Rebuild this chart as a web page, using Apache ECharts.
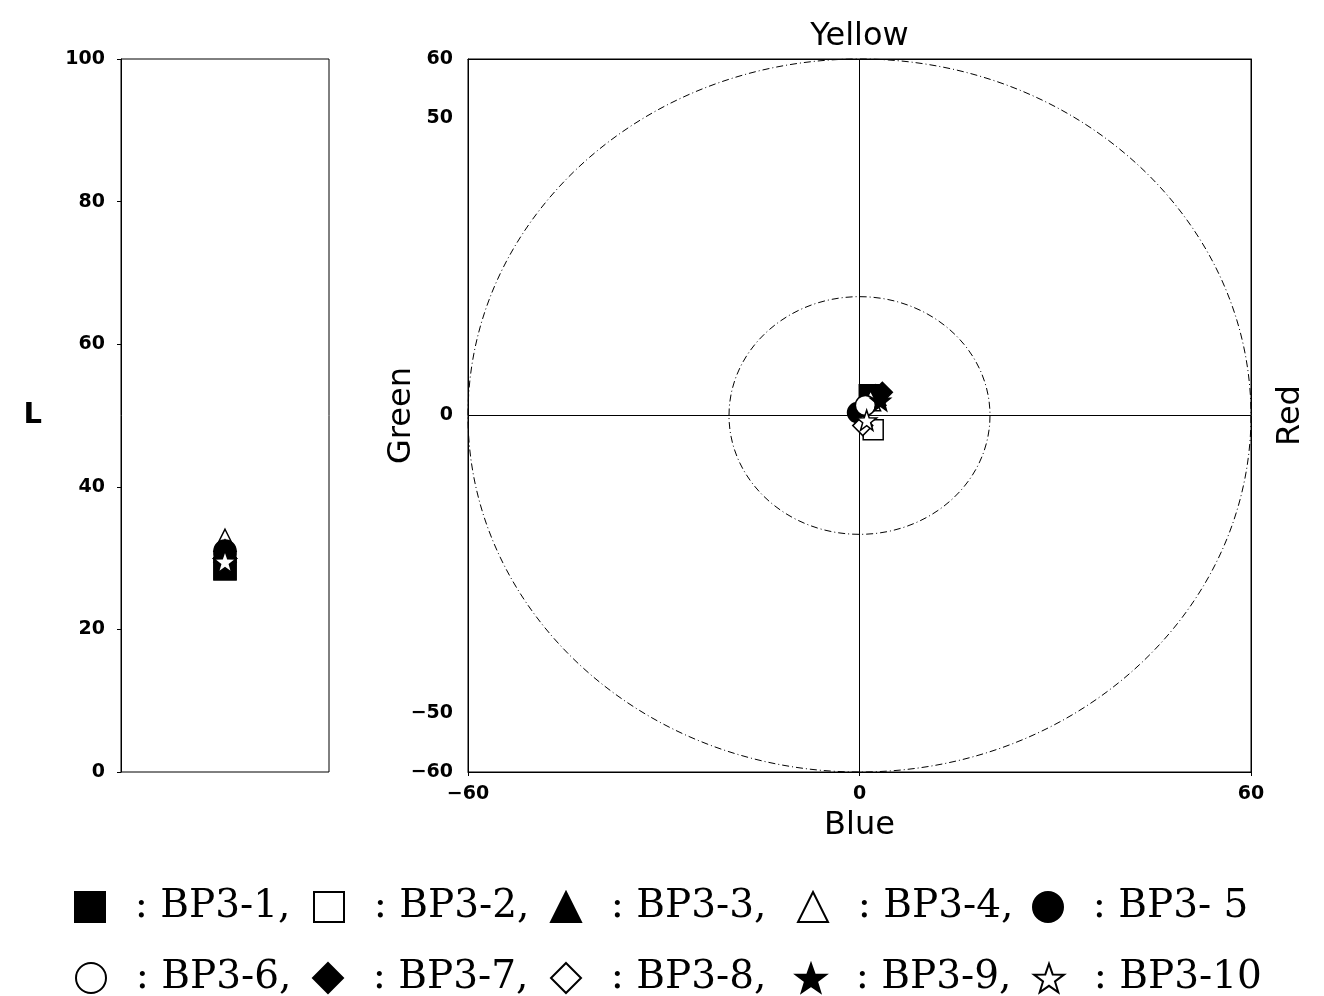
<!DOCTYPE html>
<html><head><meta charset="utf-8">
<script src="https://cdn.jsdelivr.net/npm/echarts@6/dist/echarts.min.js"></script>
<style>html,body{margin:0;padding:0;background:#fff}#c{width:1324px;height:996px}</style>
</head><body><div id="c"></div>
<script>
// ---- data ----
const samples = ['BP3-1','BP3-2','BP3-3','BP3-4','BP3-5','BP3-6','BP3-7','BP3-8','BP3-9','BP3-10'];
const legendLabels = ['BP3-1,','BP3-2,','BP3-3,','BP3-4,','BP3- 5','BP3-6,','BP3-7,','BP3-8,','BP3-9,','BP3-10'];
const lValues = [28.5, 28.5, 31.0, 32.5, 31.0, 30.5, 30.0, 30.0, 29.5, 29.5];
const aValues = [1.5, 2.1, 2.5, 1.7, -0.3, 0.9, 3.5, 0.5, 3.2, 1.1];
const bValues = [3.5, -2.4, 3.4, 2.5, 0.5, 1.7, 3.9, -1.7, 2.5, -0.8];
const lTicks = [0, 20, 40, 60, 80, 100];
const abYTicks = [-60, -50, 0, 50, 60];
const abXTicks = [-60, 0, 60];
const ringRadii = [20, 60];

// ---- styles / layout ----
const STAR = 'path://M0,-10 L2.35,-3.24 L9.51,-3.09 L3.80,1.24 L5.88,8.09 L0,4 L-5.88,8.09 L-3.80,1.24 L-9.51,-3.09 L-2.35,-3.24 Z';
const markers = [
  {symbol:'rect', fill:'#000'}, {symbol:'rect', fill:'#fff'},
  {symbol:'triangle', fill:'#000'}, {symbol:'triangle', fill:'#fff'},
  {symbol:'circle', fill:'#000'}, {symbol:'circle', fill:'#fff'},
  {symbol:'diamond', fill:'#000'}, {symbol:'diamond', fill:'#fff'},
  {symbol:STAR, fill:'#000'}, {symbol:STAR, fill:'#fff'}
];
const legendLeft = [74, 313, 550, 797, 1032, 75, 312, 550, 795, 1033];
const legendTop = [884, 884, 884, 884, 884, 955, 955, 955, 955, 955];
const lZ = [6, 4, 6, 3, 6, 4, 6, 4, 6, 8];
const fmtNum = v => String(v).replace('-', '\u2212');
const axisFont = {fontFamily:'DejaVu Sans', fontWeight:'bold', fontSize:19, color:'#000'};
const nameFont = {fontFamily:'DejaVu Sans', fontSize:32, color:'#000'};
const blackLine = {lineStyle:{color:'#000', width:1}};

const chart = echarts.init(document.getElementById('c'), null, {renderer:'canvas'});

const series = [];
samples.forEach((s, i) => {
  const m = markers[i];
  const style = {color:m.fill, borderColor:'#000', borderWidth:1.5, opacity:1};
  series.push({
    name:s, type:'scatter', xAxisIndex:0, yAxisIndex:0,
    symbol:m.symbol, symbolSize:22, itemStyle:style, z:lZ[i],
    data:[[1, lValues[i]]]
  });
  series.push({
    name:s, type:'scatter', xAxisIndex:1, yAxisIndex:1,
    symbol:m.symbol, symbolSize:20, itemStyle:style, z:3+i,
    data:[[aValues[i], bValues[i]]]
  });
});
series.unshift({
  type:'custom', xAxisIndex:1, yAxisIndex:1, silent:true, z:1,
  data: ringRadii.map(r => [0, 0, r]),
  encode:{x:0, y:1},
  renderItem(params, api){
    const c = api.coord([api.value(0), api.value(1)]);
    const sz = api.size([api.value(2), api.value(2)]);
    return {type:'ellipse', shape:{cx:c[0], cy:c[1], rx:sz[0], ry:sz[1]},
      style:{fill:'none', stroke:'#000', lineWidth:1, lineDash:[7,3,1,3]}};
  },
  markLine:{silent:true, symbol:'none', label:{show:false},
    lineStyle:{color:'#000', width:1, type:'solid'},
    data:[{xAxis:0},{yAxis:0}]}
});

const legends = samples.map((s, i) => ({
  left:legendLeft[i], top:legendTop[i], data:[s],
  itemWidth:30, itemHeight:30, itemGap:0, padding:0,
  textStyle:{fontFamily:'DejaVu Serif', fontSize:39, lineHeight:46, color:'#000'},
  formatter: () => '  : ' + legendLabels[i],
  selectedMode:false
}));

chart.setOption({
  animation:false,
  backgroundColor:'#fff',
  grid:[
    {left:121, top:59, width:208, height:713, show:true, borderColor:'#000', borderWidth:1, backgroundColor:'transparent'},
    {left:468, top:59, width:783, height:713, show:true, borderColor:'#000', borderWidth:1, backgroundColor:'transparent'}
  ],
  legend:legends,
  xAxis:[
    {gridIndex:0, type:'value', min:0, max:2, show:false},
    {gridIndex:1, type:'value', min:-60, max:60, interval:60, position:'bottom',
     axisLine:Object.assign({show:true, onZero:false}, blackLine), axisTick:{show:true, length:4, lineStyle:{color:'#000'}},
     splitLine:{show:false},
     axisLabel:Object.assign({margin:13, formatter:v => abXTicks.includes(v) ? fmtNum(v) : ''}, axisFont),
     name:'Blue', nameLocation:'middle', nameGap:38, nameMoveOverlap:false, nameTextStyle:nameFont},
    {gridIndex:1, type:'value', min:-60, max:60, position:'top',
     axisLine:Object.assign({show:true, onZero:false}, blackLine), axisTick:{show:false}, axisLabel:{show:false}, splitLine:{show:false},
     name:'Yellow', nameLocation:'middle', nameGap:6, nameMoveOverlap:false, nameTextStyle:nameFont}
  ],
  yAxis:[
    {gridIndex:0, type:'value', min:0, max:100, interval:20,
     axisLine:Object.assign({show:true}, blackLine), axisTick:{show:true, length:4, lineStyle:{color:'#000'}},
     splitLine:{show:false},
     axisLabel:Object.assign({margin:16, formatter:v => lTicks.includes(v) ? fmtNum(v) : ''}, axisFont),
     name:'L', nameLocation:'middle', nameRotate:0, nameGap:79, nameMoveOverlap:false,
     nameTextStyle:Object.assign({}, nameFont, {fontWeight:'bold', fontSize:29})},
    {gridIndex:1, type:'value', min:-60, max:60, interval:10,
     axisLine:Object.assign({show:true, onZero:false}, blackLine), axisTick:{show:false},
     splitLine:{show:false},
     axisLabel:Object.assign({margin:15, formatter:v => abYTicks.includes(v) ? fmtNum(v) : ''}, axisFont),
     name:'Green', nameLocation:'middle', nameGap:50, nameMoveOverlap:false, nameTextStyle:nameFont},
    {gridIndex:1, type:'value', min:-60, max:60, position:'right',
     axisLine:Object.assign({show:true, onZero:false}, blackLine), axisTick:{show:false}, axisLabel:{show:false}, splitLine:{show:false},
     name:'Red', nameLocation:'middle', nameGap:24, nameMoveOverlap:false, nameTextStyle:nameFont}
  ],
  series:series
});
</script></body></html>
